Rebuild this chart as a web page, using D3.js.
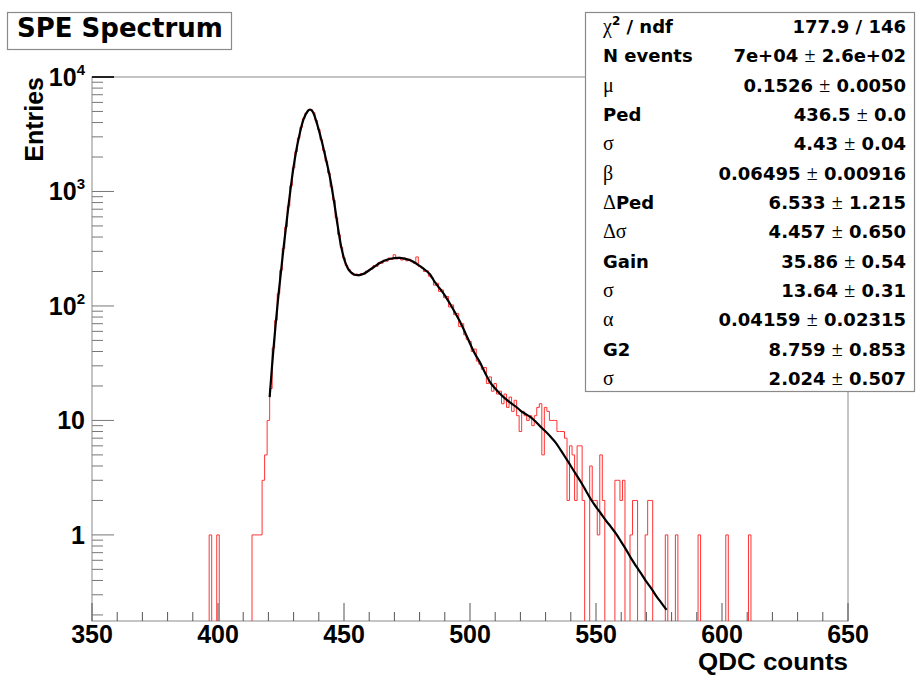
<!DOCTYPE html>
<html>
<head>
<meta charset="utf-8">
<script src="https://cdn.jsdelivr.net/npm/d3@7"></script>
<style>
  body { margin: 0; background: #fff; }
  svg { display: block; }
</style>
</head>
<body>
<div id="chart"></div>
<script>
// histogram: bins of width 1, centres from binStart upward
const binStart = 396;
const lowTail = [0,1,0,0,1, 0,0,0,0,0,0,0,0,0,0,0,0,0, 1,1,1,1,3,5,10];
const peakCounts = [
  19,43,75,128,205,318,490,745,1120,1610,
  2230,2920,3640,4330,4830,5160,5190,4870,4170,3480,
  2830,2280,1840,1450,1100,840,590,420,325,262,
  225,208,196,186,190,184,192,189,201,206,
  210,225,222,240,236,251,246,262,255,280,
  258,266,252,262,248,256,243,236,268,222,
  214,200,203,182,176,152,158,134,138,118,
  121,98,102,84,86,66,70,56,51,49
];
const tailCounts = [
  40,42,33,31,28,29,21,24,18,21,
  17,18,14,17,13,16,12,15,11,8,
  12,11,10,11,9,11,13,14,5,13,
  12,10,10,10,8,8,8,7,2,6,
  5,2,6,6,2,0,0,4,2,2,
  1,5,2,0,0,0,0,3,3,2,
  3,0,0,1,2,2,0,0,0,1,
  2,2,0,0,0,0,0,1,0,0,
  0,1,0,0,0,0,0,0,0,0,
  1,0,0,0,0,0,0,0,0,0,
  0,1,0,0,0,0,0,0,0,0,
  1,0
];

// fit curve
const fitX = [420.5,422,424,426,428,430,432,434,435.5,436.5,437.5,439,441,443,444.5,446,447.5,449,450.5,452,
  454,456,458,460,462,464,466,468,470,472,474,476,478,480,482,484,486,488,490,492,494,496,498,500,
  502,504,506,508,510,512,514,516,518,520,522,524,526,528,530,532,534,536,538,540,
  542,544,546,548,550,552,554,556,558,560,562,564,566,568,570,572,574,576,578];
const fitY = [16,42,125,320,760,1650,2900,4300,5000,5200,5000,4100,2850,1850,1300,830,500,320,240,205,
  188,186,192,205,220,236,248,257,262,263,259,252,240,224,208,190,162,142,124,105,88,73,59,47,
  38,32,26,21.5,19,17,15.5,14.3,13.3,12.2,11.4,10.7,9.8,8.8,8.0,7.2,6.4,5.5,4.7,4.0,
  3.4,2.9,2.43,2.04,1.76,1.53,1.33,1.17,1.02,0.87,0.74,0.62,0.53,0.457,0.39,0.34,0.29,0.254,0.221];

const xTicks = d3.range(350, 651, 10);
const xLabels = [350, 400, 450, 500, 550, 600, 650];
const yLabelVals = [1, 10, 100, 1000, 10000];
const yLabelExp = [null, null, 2, 3, 4];

const statNames = ["χ^2 / ndf", "N events", "μ", "Ped", "σ", "β", "ΔPed", "Δσ", "Gain", "σ", "α", "G2", "σ"];
const statValues = ["177.9 / 146", "7e+04 ± 2.6e+02", "0.1526 ± 0.0050", "436.5 ± 0.0", "4.43 ± 0.04",
  "0.06495 ± 0.00916", "6.533 ± 1.215", "4.457 ± 0.650", "35.86 ± 0.54", "13.64 ± 0.31",
  "0.04159 ± 0.02315", "8.759 ± 0.853", "2.024 ± 0.507"];

const counts = lowTail.concat(peakCounts, tailCounts);

const W = 919, H = 675;
const fL = 92, fR = 848, fT = 77, fB = 621;

const svg = d3.select("#chart").append("svg")
  .attr("width", W).attr("height", H);
svg.append("rect").attr("width", W).attr("height", H).attr("fill", "#fff");

const x = d3.scaleLinear().domain([350, 650]).range([fL, fR]);
const y = d3.scaleLog().domain([0.177, 10000]).range([fB, fT]);

svg.append("clipPath").attr("id", "frame")
  .append("rect").attr("x", fL).attr("y", fT)
  .attr("width", fR - fL).attr("height", fB - fT);

// frame
svg.append("rect")
  .attr("x", fL).attr("y", fT)
  .attr("width", fR - fL).attr("height", fB - fT)
  .attr("fill", "none").attr("stroke", "#8a8a8a").attr("stroke-width", 1);

// histogram outline as steps
const ypix = n => n > 0 ? y(n) : fB + 3;
let pts = [[x(binStart - 0.5), fB + 3]];
counts.forEach((n, i) => {
  const c = binStart + i;
  pts.push([x(c - 0.5), ypix(n)]);
  pts.push([x(c + 0.5), ypix(n)]);
});
pts.push([x(binStart + counts.length - 0.5), fB + 3]);

svg.append("path")
  .attr("clip-path", "url(#frame)")
  .attr("d", d3.line()(pts))
  .attr("fill", "none")
  .attr("stroke", "#ff3333")
  .attr("stroke-width", 1);

// fit
const fitLine = d3.line()
  .x((d, i) => x(fitX[i]))
  .y(d => y(d))
  .curve(d3.curveCatmullRom);
svg.append("path")
  .attr("clip-path", "url(#frame)")
  .attr("d", fitLine(fitY))
  .attr("fill", "none")
  .attr("stroke", "#000")
  .attr("stroke-width", 2.2);

// x ticks
svg.append("g").selectAll("line").data(xTicks).join("line")
  .attr("x1", d => x(d)).attr("x2", d => x(d))
  .attr("y1", fB)
  .attr("y2", d => d % 50 === 0 ? fB - 18 : fB - 9)
  .attr("stroke", "#555").attr("stroke-width", 1);

svg.append("g").selectAll("text").data(xLabels).join("text")
  .attr("x", d => x(d)).attr("y", 643)
  .attr("text-anchor", "middle")
  .attr("font-family", "Liberation Sans, Arial, sans-serif")
  .attr("font-weight", "bold").attr("font-size", 25)
  .text(d => d);

// y ticks (log decades with 2..9 minors)
const yTicks = [];
for (let k = -1; k <= 4; k++) {
  for (let m = 1; m <= 9; m++) {
    const v = m * Math.pow(10, k);
    if (v >= 0.177 && v <= 10000) yTicks.push({ v: v, major: m === 1 });
  }
}
svg.append("g").selectAll("line").data(yTicks).join("line")
  .attr("x1", fL)
  .attr("x2", d => d.major ? fL + 22 : fL + 11)
  .attr("y1", d => y(d.v)).attr("y2", d => y(d.v))
  .attr("stroke", d => d.v === 10000 ? "#222" : "#777")
  .attr("stroke-width", d => d.v === 10000 ? 2 : 1);

const yl = svg.append("g").selectAll("text").data(yLabelVals).join("text")
  .attr("x", 85).attr("y", d => y(d) + 9)
  .attr("text-anchor", "end")
  .attr("font-family", "Liberation Sans, Arial, sans-serif")
  .attr("font-weight", "bold").attr("font-size", 25);
yl.each(function(d, i) {
  const t = d3.select(this);
  if (yLabelExp[i] == null) { t.text(d); return; }
  t.append("tspan").text("10");
  t.append("tspan").attr("dy", -11).attr("font-size", 15).text(yLabelExp[i]);
});

// axis titles
svg.append("text")
  .attr("x", fR).attr("y", 670)
  .attr("text-anchor", "end")
  .attr("font-family", "Liberation Sans, Arial, sans-serif")
  .attr("font-weight", "bold").attr("font-size", 23)
  .attr("textLength", 150).attr("lengthAdjust", "spacingAndGlyphs")
  .text("QDC counts");

svg.append("text")
  .attr("transform", `translate(43,${fT}) rotate(-90)`)
  .attr("text-anchor", "end")
  .attr("font-family", "Liberation Sans, Arial, sans-serif")
  .attr("font-weight", "bold").attr("font-size", 25)
  .text("Entries");

// stats box
svg.append("rect")
  .attr("x", 585.5).attr("y", 12.5).attr("width", 329).attr("height", 379)
  .attr("fill", "#fff").attr("stroke", "#8a8a8a").attr("stroke-width", 1.2);

const greek = "±αβμσΔχ";
function writeRuns(t, s) {
  // bold sans runs, thin symbol runs; "^2" becomes a superscript
  let runs = [];
  for (const ch of s) {
    const sym = greek.includes(ch);
    const last = runs[runs.length - 1];
    if (last && last.sym === sym) last.txt += ch;
    else runs.push({ sym: sym, txt: ch });
  }
  let shift = 0;
  runs.forEach(r => {
    r.txt.split("^2").forEach((p, j) => {
      if (j > 0) {
        t.append("tspan").attr("dy", -8)
          .attr("font-family", "DejaVu Sans, sans-serif").attr("font-weight", "bold")
          .attr("font-size", 12).text("2");
        shift = 8;
      }
      if (p.length) {
        const sp = t.append("tspan")
          .attr("font-family", r.sym ? "Liberation Serif, DejaVu Serif, serif" : "DejaVu Sans, sans-serif")
          .attr("font-weight", r.sym ? "normal" : "bold")
          .attr("font-size", r.sym ? 20 : 18)
          .text(p);
        if (shift) { sp.attr("dy", shift); shift = 0; }
      }
    });
  });
}

statNames.forEach((nm, i) => {
  const by = 33 + i * 29.33;
  writeRuns(svg.append("text").attr("x", 603).attr("y", by), nm);
  writeRuns(svg.append("text").attr("x", 906).attr("y", by).attr("text-anchor", "end"), statValues[i]);
});

// title box
svg.append("rect")
  .attr("x", 7.5).attr("y", 12.5).attr("width", 224).attr("height", 37)
  .attr("fill", "#fff").attr("stroke", "#8a8a8a").attr("stroke-width", 1.2);
svg.append("text")
  .attr("x", 17).attr("y", 37)
  .attr("font-family", "DejaVu Sans, sans-serif")
  .attr("font-weight", "bold").attr("font-size", 26)
  .text("SPE Spectrum");
</script>
</body>
</html>
